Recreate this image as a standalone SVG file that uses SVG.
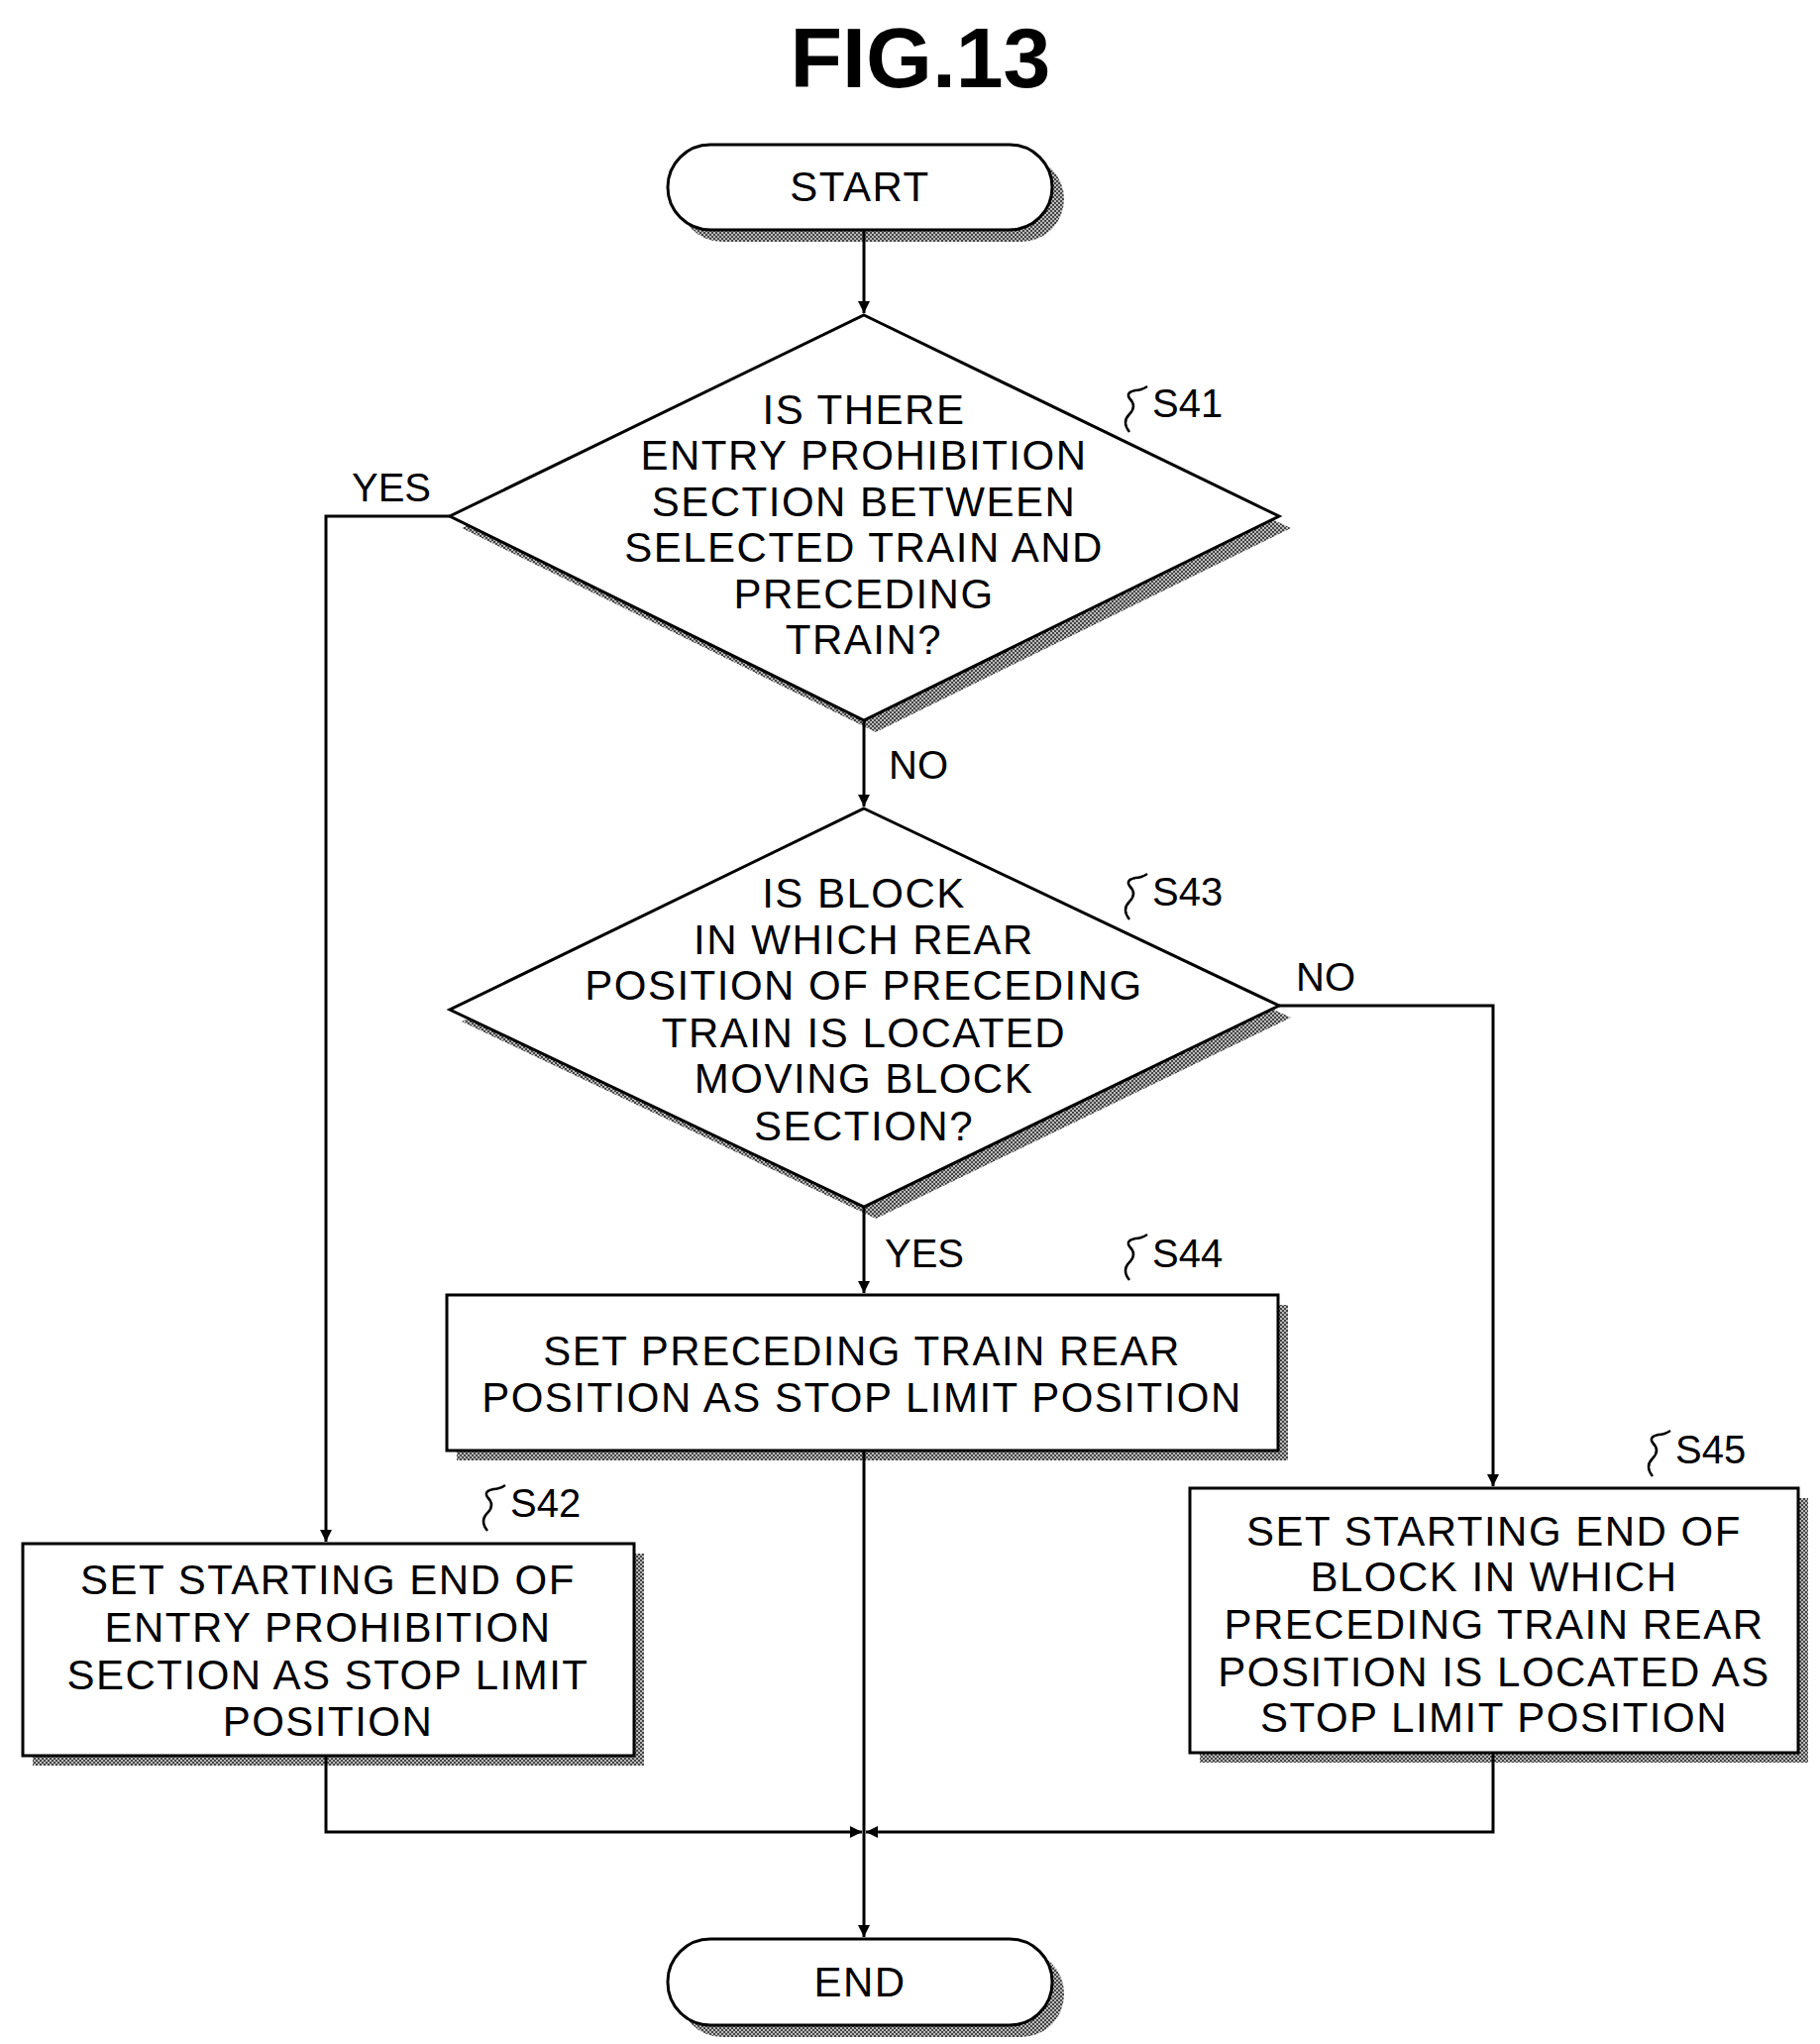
<svg xmlns="http://www.w3.org/2000/svg" width="1837" height="2063" viewBox="0 0 1837 2063">
<defs>
<marker id="ah" viewBox="0 0 10 10" refX="10" refY="5" markerWidth="12" markerHeight="12" markerUnits="userSpaceOnUse" orient="auto"><path d="M0,0 L10,5 L0,10 Z" fill="#000"/></marker>
<pattern id="ht" width="4" height="4" patternUnits="userSpaceOnUse"><rect width="4" height="4" fill="#bbb"/><rect width="2" height="2" fill="#444"/><rect x="2" y="2" width="2" height="2" fill="#444"/></pattern>
</defs>
<style>
.t{font-family:"Liberation Sans",Arial,sans-serif;font-size:42px;letter-spacing:1.5px;text-anchor:middle;fill:#000}
.l{font-family:"Liberation Sans",Arial,sans-serif;font-size:40px;fill:#000}
.b{fill:#fff;stroke:#000;stroke-width:3}
.sh{fill:url(#ht)}
.c{fill:none;stroke:#000;stroke-width:3}
.sq{fill:none;stroke:#000;stroke-width:2.5}
</style>
<rect width="1837" height="2063" fill="#fff"/>
<text x="929" y="88" style="font-family:'Liberation Sans',Arial,sans-serif;font-size:86px;font-weight:bold;text-anchor:middle">FIG.13</text>

<g id="start">
<rect class="sh" x="686" y="158" width="388" height="86" rx="43"/>
<rect class="b" x="674" y="146" width="388" height="86" rx="43"/>
<text class="t" x="868" y="203">START</text>
</g>

<g id="s41">
<polygon class="sh" points="872,330 1303,533 884,739 466,533"/>
<polygon class="b" points="872,318 1291,521 872,727 454,521"/>
<text class="t" x="872" y="428">IS THERE</text>
<text class="t" x="872" y="474">ENTRY PROHIBITION</text>
<text class="t" x="872" y="521">SECTION BETWEEN</text>
<text class="t" x="872" y="567">SELECTED TRAIN AND</text>
<text class="t" x="872" y="614">PRECEDING</text>
<text class="t" x="872" y="660">TRAIN?</text>
<path class="sq" d="M1140,436 q-8,-10 0,-18 q8,-8 0,-16 q-4,-6 6,-8 q6,0 12,-4"/>
<text class="l" x="1163" y="421">S41</text>
</g>

<g id="s43">
<polygon class="sh" points="872,828 1303,1027 884,1230 466,1031"/>
<polygon class="b" points="872,816 1291,1015 872,1218 454,1019"/>
<text class="t" x="872" y="916">IS BLOCK</text>
<text class="t" x="872" y="963">IN WHICH REAR</text>
<text class="t" x="872" y="1009">POSITION OF PRECEDING</text>
<text class="t" x="872" y="1057">TRAIN IS LOCATED</text>
<text class="t" x="872" y="1103">MOVING BLOCK</text>
<text class="t" x="872" y="1151">SECTION?</text>
<path class="sq" d="M1140,928 q-8,-10 0,-18 q8,-8 0,-16 q-4,-6 6,-8 q6,0 12,-4"/>
<text class="l" x="1163" y="914">S43</text>
</g>

<g id="s44">
<rect class="sh" x="461" y="1317" width="839" height="157"/>
<rect class="b" x="451" y="1307" width="839" height="157"/>
<text class="t" x="870" y="1378">SET PRECEDING TRAIN REAR</text>
<text class="t" x="870" y="1425">POSITION AS STOP LIMIT POSITION</text>
<path class="sq" d="M1140,1292 q-8,-10 0,-18 q8,-8 0,-16 q-4,-6 6,-8 q6,0 12,-4"/>
<text class="l" x="1163" y="1279">S44</text>
</g>

<g id="s42">
<rect class="sh" x="33" y="1568" width="617" height="214"/>
<rect class="b" x="23" y="1558" width="617" height="214"/>
<text class="t" x="331" y="1609">SET STARTING END OF</text>
<text class="t" x="331" y="1657">ENTRY PROHIBITION</text>
<text class="t" x="331" y="1705">SECTION AS STOP LIMIT</text>
<text class="t" x="331" y="1752">POSITION</text>
<path class="sq" d="M492,1545 q-8,-10 0,-18 q8,-8 0,-16 q-4,-6 6,-8 q6,0 12,-4"/>
<text class="l" x="515" y="1531">S42</text>
</g>

<g id="s45">
<rect class="sh" x="1211" y="1512" width="614" height="267"/>
<rect class="b" x="1201" y="1502" width="614" height="267"/>
<text class="t" x="1508" y="1560">SET STARTING END OF</text>
<text class="t" x="1508" y="1606">BLOCK IN WHICH</text>
<text class="t" x="1508" y="1654">PRECEDING TRAIN REAR</text>
<text class="t" x="1508" y="1702">POSITION IS LOCATED AS</text>
<text class="t" x="1508" y="1748">STOP LIMIT POSITION</text>
<path class="sq" d="M1668,1490 q-8,-10 0,-18 q8,-8 0,-16 q-4,-6 6,-8 q6,0 12,-4"/>
<text class="l" x="1691" y="1477">S45</text>
</g>

<g id="end">
<rect class="sh" x="686" y="1969" width="388" height="87" rx="43"/>
<rect class="b" x="674" y="1957" width="388" height="87" rx="43"/>
<text class="t" x="868" y="2015">END</text>
</g>

<g id="connectors">
<path class="c" d="M872,232 V316" marker-end="url(#ah)"/>
<path class="c" d="M872,727 V814" marker-end="url(#ah)"/>
<path class="c" d="M454,521 H329 V1556" marker-end="url(#ah)"/>
<path class="c" d="M1291,1015 H1507 V1500" marker-end="url(#ah)"/>
<path class="c" d="M872,1218 V1305" marker-end="url(#ah)"/>
<path class="c" d="M872,1464 V1955" marker-end="url(#ah)"/>
<path class="c" d="M329,1772 V1849 H870" marker-end="url(#ah)"/>
<path class="c" d="M1507,1769 V1849 H874" marker-end="url(#ah)"/>
<text class="l" x="355" y="506">YES</text>
<text class="l" x="897" y="786">NO</text>
<text class="l" x="1308" y="1000">NO</text>
<text class="l" x="893" y="1279">YES</text>
</g>
</svg>
